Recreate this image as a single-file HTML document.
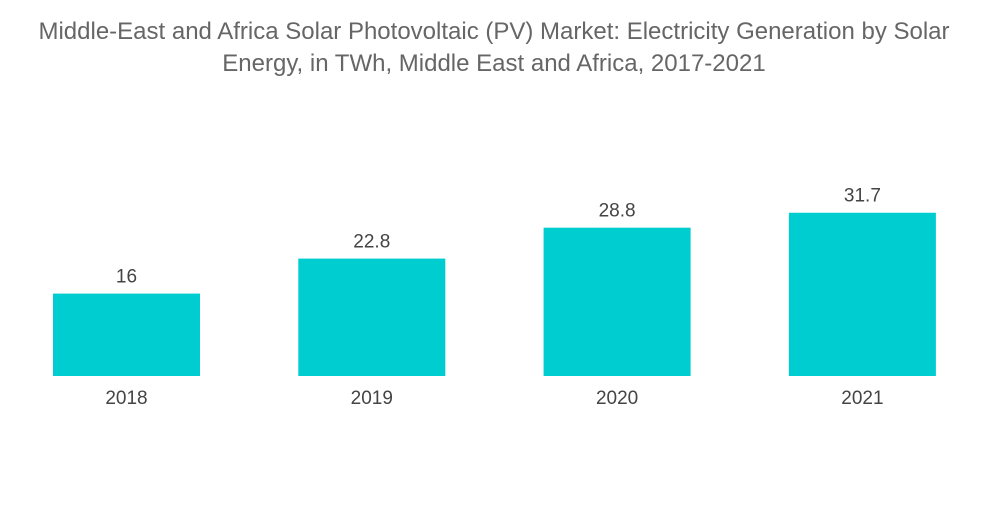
<!DOCTYPE html>
<html><head><meta charset="utf-8"><style>
body{margin:0;background:#fff;width:1000px;height:504px;overflow:hidden;font-family:"Liberation Sans",sans-serif}
</style></head><body>
<svg width="1000" height="504" xmlns="http://www.w3.org/2000/svg">
<g fill="#666" font-size="24" text-anchor="middle">
<text x="494" y="39">Middle-East and Africa Solar Photovoltaic (PV) Market: Electricity Generation by Solar</text>
<text x="494" y="71">Energy, in TWh, Middle East and Africa, 2017-2021</text>
</g>
<g id="bars"></g>
</svg>
<script>
const categories=["2018","2019","2020","2021"];
const values=[16,22.8,28.8,31.7];
const valueLabels=["16","22.8","28.8","31.7"];
const g=document.getElementById('bars');
const ns="http://www.w3.org/2000/svg";
const base=376,scale=5.15,x0=53,step=245.3,bw=147;
function y(v){return base-v*scale;}
categories.forEach((c,i)=>{
  const x=x0+i*step;
  const r=document.createElementNS(ns,'rect');
  r.setAttribute('x',x);r.setAttribute('y',y(values[i]));r.setAttribute('width',bw);r.setAttribute('height',base-y(values[i]));r.setAttribute('fill','#00cdd0');
  
  
  g.appendChild(r);
  const t=document.createElementNS(ns,'text');
  t.setAttribute('x',x+bw/2);t.setAttribute('y',y(values[i])-11);t.setAttribute('text-anchor','middle');t.setAttribute('font-size','19');t.setAttribute('fill','#444');
  t.textContent=valueLabels[i];
  
  
  g.appendChild(t);
  const l=document.createElementNS(ns,'text');
  l.setAttribute('x',x+bw/2);l.setAttribute('y',404);l.setAttribute('text-anchor','middle');l.setAttribute('font-size','19');l.setAttribute('fill','#444');
  l.textContent=c;
  
  
  g.appendChild(l);
});
</script>
</body></html>
